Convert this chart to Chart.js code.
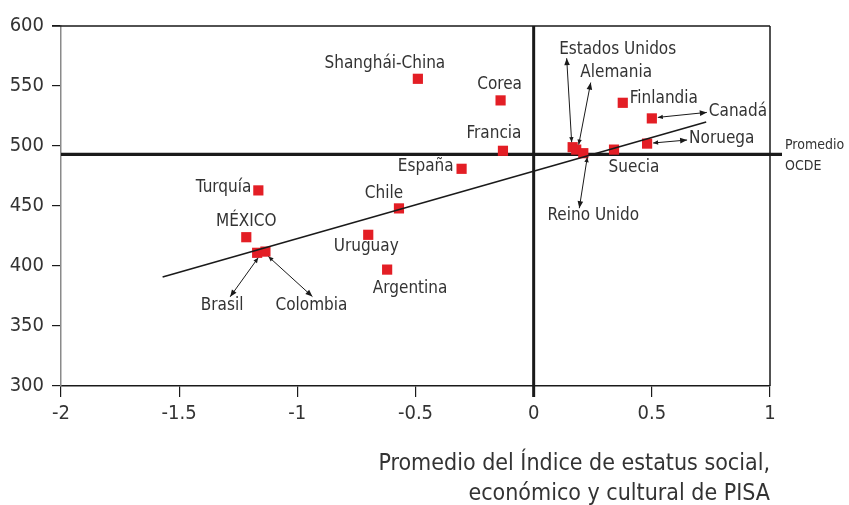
<!DOCTYPE html>
<html>
<head>
<meta charset="utf-8">
<script src="https://cdn.jsdelivr.net/npm/chart.js@4/dist/chart.umd.min.js"></script>
<style>
  html, body { margin: 0; padding: 0; background: #fff; }
  #wrap { width: 849px; height: 505px; }
</style>
</head>
<body>
<div id="wrap"><canvas id="grafico"></canvas></div>
<script>
// Datos
const paises = ['Shanghái-China', 'Corea', 'Francia', 'España', 'Chile', 'Estados Unidos', 'Alemania',
    'Reino Unido', 'Suecia', 'Noruega', 'Canadá', 'Finlandia', 'Turquía', 'MÉXICO', 'Brasil',
    'Colombia', 'Uruguay', 'Argentina'];
const indiceESCS = [-0.49, -0.14, -0.13, -0.305, -0.57, 0.165, 0.18, 0.21, 0.34, 0.48, 0.50, 0.377,
    -1.165, -1.216, -1.17, -1.135, -0.70, -0.62];
const puntaje = [556, 538, 496, 481, 448, 499, 497, 494, 497, 502, 523, 536, 463, 424, 411, 412, 426, 397];
const tendenciaX = [-1.57, 0.73];
const tendenciaY = [390.8, 520];
const promedioOCDE = 493;
const ticksX = [-2, -1.5, -1, -0.5, 0, 0.5, 1];
const ticksY = [300, 350, 400, 450, 500, 550, 600];

// Etiquetas: desplazamiento en px respecto al punto
const etiquetas = {
    'Shanghái-China': { dx: -33, dy: -15, align: 'center' },
    'Corea': { dx: -1, dy: -16, align: 'center' },
    'Francia': { dx: -9, dy: -17, align: 'center' },
    'España': { dx: -8, dy: -2, align: 'right' },
    'Chile': { dx: -15, dy: -15, align: 'center' },
    'Estados Unidos': { dx: 45, dy: -98, align: 'center', flecha: [-1, -5, -6, -89] },
    'Alemania': { dx: 40, dy: -77, align: 'center', flecha: [2.5, -5, 14.5, -67] },
    'Reino Unido': { dx: 10, dy: 62, align: 'center', flecha: [4, 4, -4, 55] },
    'Suecia': { dx: 20, dy: 18, align: 'center' },
    'Noruega': { dx: 42, dy: -4.6, align: 'left', flecha: [6, -0.6, 40, -3.6] },
    'Canadá': { dx: 57, dy: -7, align: 'left', flecha: [6, -1, 55, -6] },
    'Finlandia': { dx: 7, dy: -4, align: 'left' },
    'Turquía': { dx: -7, dy: -3, align: 'right' },
    'MÉXICO': { dx: 0, dy: -16, align: 'center' },
    'Brasil': { dx: -35, dy: 53, align: 'center', flecha: [1, 5, -27, 44] },
    'Colombia': { dx: 46, dy: 54, align: 'center', flecha: [3, 5, 47, 45] },
    'Uruguay': { dx: -2, dy: 12, align: 'center' },
    'Argentina': { dx: 23, dy: 19, align: 'center' }
};

const FUENTE = "'Liberation Sans Narrow', 'DejaVu Sans Condensed', 'Roboto', sans-serif";
const ROJO = '#e31e25';
const TEXTO = '#333333';

function punta(ctx, x1, y1, x2, y2, largo, ancho) {
    const ang = Math.atan2(y2 - y1, x2 - x1);
    ctx.beginPath();
    ctx.moveTo(x2, y2);
    ctx.lineTo(x2 - largo * Math.cos(ang) + ancho * Math.sin(ang), y2 - largo * Math.sin(ang) - ancho * Math.cos(ang));
    ctx.lineTo(x2 - largo * Math.cos(ang) - ancho * Math.sin(ang), y2 - largo * Math.sin(ang) + ancho * Math.cos(ang));
    ctx.closePath();
    ctx.fill();
}

const decoracion = {
    id: 'decoracion',
    beforeDatasetsDraw(chart) {
        const { ctx, chartArea: ca, scales: { x, y } } = chart;
        ctx.save();
        ctx.strokeStyle = '#1a1a1a';
        // borde superior y derecho
        ctx.lineWidth = 1.5;
        ctx.beginPath();
        ctx.moveTo(ca.left - 9, ca.top);
        ctx.lineTo(ca.right, ca.top);
        ctx.moveTo(ca.right, ca.top);
        ctx.lineTo(ca.right, ca.bottom);
        ctx.stroke();
        // promedio OCDE
        const yo = y.getPixelForValue(promedioOCDE);
        ctx.lineWidth = 3.2;
        ctx.beginPath();
        ctx.moveTo(ca.left, yo);
        ctx.lineTo(ca.right + 12, yo);
        ctx.stroke();
        // eje x = 0
        const x0 = x.getPixelForValue(0);
        ctx.lineWidth = 3;
        ctx.beginPath();
        ctx.moveTo(x0, ca.top);
        ctx.lineTo(x0, ca.bottom + 11);
        ctx.stroke();
        ctx.restore();
    },
    afterDatasetsDraw(chart) {
        const { ctx, chartArea: ca, scales: { x, y } } = chart;
        ctx.save();
        ctx.font = "17px " + FUENTE;
        ctx.fillStyle = TEXTO;
        ctx.textBaseline = 'middle';
        paises.forEach((p, i) => {
            const e = etiquetas[p];
            const px = x.getPixelForValue(indiceESCS[i]);
            const py = y.getPixelForValue(puntaje[i]);
            ctx.textAlign = e.align;
            ctx.fillStyle = TEXTO;
            ctx.fillText(p, px + e.dx, py + e.dy);
            if (e.flecha) {
                const [a, b, c, d] = e.flecha;
                ctx.strokeStyle = '#1a1a1a';
                ctx.fillStyle = '#1a1a1a';
                ctx.lineWidth = 1;
                ctx.beginPath();
                ctx.moveTo(px + a, py + b);
                ctx.lineTo(px + c, py + d);
                ctx.stroke();
                punta(ctx, px + a, py + b, px + c, py + d, 7, 2.8);
                punta(ctx, px + c, py + d, px + a, py + b, 5, 2.2);
            }
        });
        // etiqueta Promedio OCDE
        const yo = y.getPixelForValue(promedioOCDE);
        ctx.font = "14px " + FUENTE;
        ctx.fillStyle = TEXTO;
        ctx.textAlign = 'left';
        ctx.fillText('Promedio', ca.right + 15, yo - 9);
        ctx.fillText('OCDE', ca.right + 15, yo + 12);
        ctx.restore();
    }
};

const puntos = indiceESCS.map((v, i) => ({ x: v, y: puntaje[i] }));
const tendencia = tendenciaX.map((v, i) => ({ x: v, y: tendenciaY[i] }));

new Chart(document.getElementById('grafico'), {
    type: 'scatter',
    data: {
        datasets: [
            {
                data: tendencia,
                showLine: true,
                borderColor: '#1a1a1a',
                borderWidth: 1.6,
                pointRadius: 0
            },
            {
                data: puntos,
                pointStyle: 'rect',
                pointRadius: 7.2,
                pointHoverRadius: 7.2,
                backgroundColor: ROJO,
                borderWidth: 0
            }
        ]
    },
    options: {
        responsive: true,
        maintainAspectRatio: false,
        animation: false,
        layout: { padding: { top: 26, right: 79, left: 0, bottom: 0 } },
        plugins: { legend: { display: false }, tooltip: { enabled: false } },
        scales: {
            x: {
                type: 'linear',
                min: -2,
                max: 1,
                afterBuildTicks: s => { s.ticks = ticksX.map(v => ({ value: v })); },
                afterFit: s => { s.height = 119; },
                grid: { drawOnChartArea: false, tickLength: 11, color: '#1a1a1a', lineWidth: 1.2 },
                border: { color: '#1a1a1a', width: 1.5 },
                ticks: {
                    padding: 5,
                    color: TEXTO,
                    font: { family: FUENTE, size: 20 },
                    callback: v => String(v)
                },
                title: {
                    display: true,
                    text: ['Promedio del Índice de estatus social,', 'económico y cultural de PISA'],
                    align: 'end',
                    color: TEXTO,
                    font: { family: FUENTE, size: 23, lineHeight: 1.3 },
                    padding: { top: 0, bottom: -4 }
                }
            },
            y: {
                min: 300,
                max: 600,
                afterBuildTicks: s => { s.ticks = ticksY.map(v => ({ value: v })); },
                afterFit: s => { s.width = 61; },
                grid: { drawOnChartArea: false, tickLength: 9, color: '#1a1a1a', lineWidth: 1.2 },
                border: { color: '#8a8a8a', width: 1.5 },
                ticks: {
                    padding: 8,
                    color: TEXTO,
                    font: { family: FUENTE, size: 20 }
                }
            }
        }
    },
    plugins: [decoracion]
});
</script>
</body>
</html>
